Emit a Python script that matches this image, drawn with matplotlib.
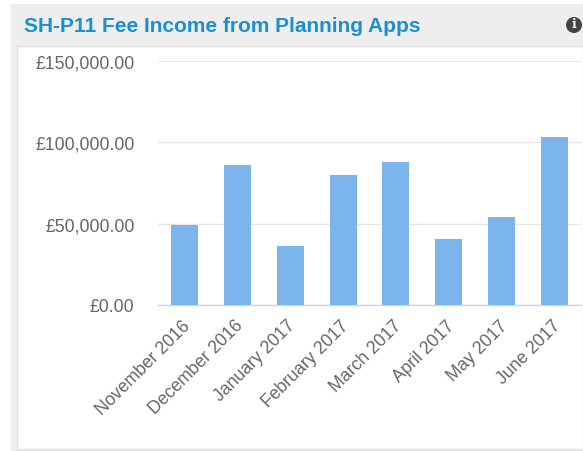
import matplotlib
matplotlib.use("Agg")
import matplotlib.pyplot as plt
from matplotlib.patches import Rectangle, Circle
from matplotlib.transforms import ScaledTranslation

W, H = 583, 451
categories = ["November 2016", "December 2016", "January 2017", "February 2017",
              "March 2017", "April 2017", "May 2017", "June 2017"]
values = [49000, 86000, 36000, 80000, 88000, 40500, 54000, 103500]
yticks = [0, 50000, 100000, 150000]
ylabels = ["£0.00", "£50,000.00", "£100,000.00", "£150,000.00"]
title = "SH-P11 Fee Income from Planning Apps"

plt.rcParams["font.family"] = ["Liberation Sans", "DejaVu Sans"]
fig = plt.figure(figsize=(W / 100, H / 100), dpi=100, facecolor="white")

# panel backgrounds in pixel coordinates
bg = fig.add_axes([0, 0, 1, 1])
bg.set_xlim(0, W); bg.set_ylim(H, 0); bg.axis("off")
bg.add_patch(Rectangle((11, 4), W - 11, H - 4, fc="#eeeeee", ec="none"))
bg.add_patch(Rectangle((17, 46), W - 17, 403, fc="white", ec="#e2e2e2", lw=1))
bg.text(24, 27, title, color="#1b8fd2", fontsize=15, fontweight="bold", va="center", ha="left")
bg.add_patch(Circle((574, 25), 8, fc="#444444", ec="none", clip_on=False))
bg.text(574, 25, "i", color="white", fontsize=9, fontweight="bold", family="DejaVu Serif", ha="center", va="center")

ax = fig.add_axes([158 / W, 1 - 305 / H, (581 - 158) / W, (305 - 61) / H])
ax.patch.set_alpha(0)
x = range(len(categories))
ax.bar(x, values, width=0.51, color="#7cb5ec", zorder=3)
ax.set_xlim(-0.5, len(categories) - 0.5)
ax.set_ylim(0, 150000)
ax.set_yticks(yticks)
ax.set_yticklabels(ylabels, color="#666666", fontsize=12.7)
ax.set_xticks(list(x))
ax.set_xticklabels(categories, rotation=45, ha="right", rotation_mode="anchor",
                   color="#666666", fontsize=12.7)
ax.grid(axis="y", color="#e6e6e6", lw=1, zorder=0)
ax.tick_params(axis="both", length=0)
ax.tick_params(axis="y", pad=17)
ax.tick_params(axis="x", pad=9)
down = ScaledTranslation(0, -1 / 100, fig.dpi_scale_trans)
for lab in ax.get_yticklabels():
    lab.set_transform(lab.get_transform() + down)
left = ScaledTranslation(-3 / 100, 0, fig.dpi_scale_trans)
for lab in ax.get_xticklabels():
    lab.set_transform(lab.get_transform() + left)
for s in ["top", "left", "right"]:
    ax.spines[s].set_visible(False)
ax.spines["bottom"].set_color("#ccd6eb")
ax.spines["bottom"].set_linewidth(1)

fig.savefig("out.png", dpi=100, facecolor="white")
